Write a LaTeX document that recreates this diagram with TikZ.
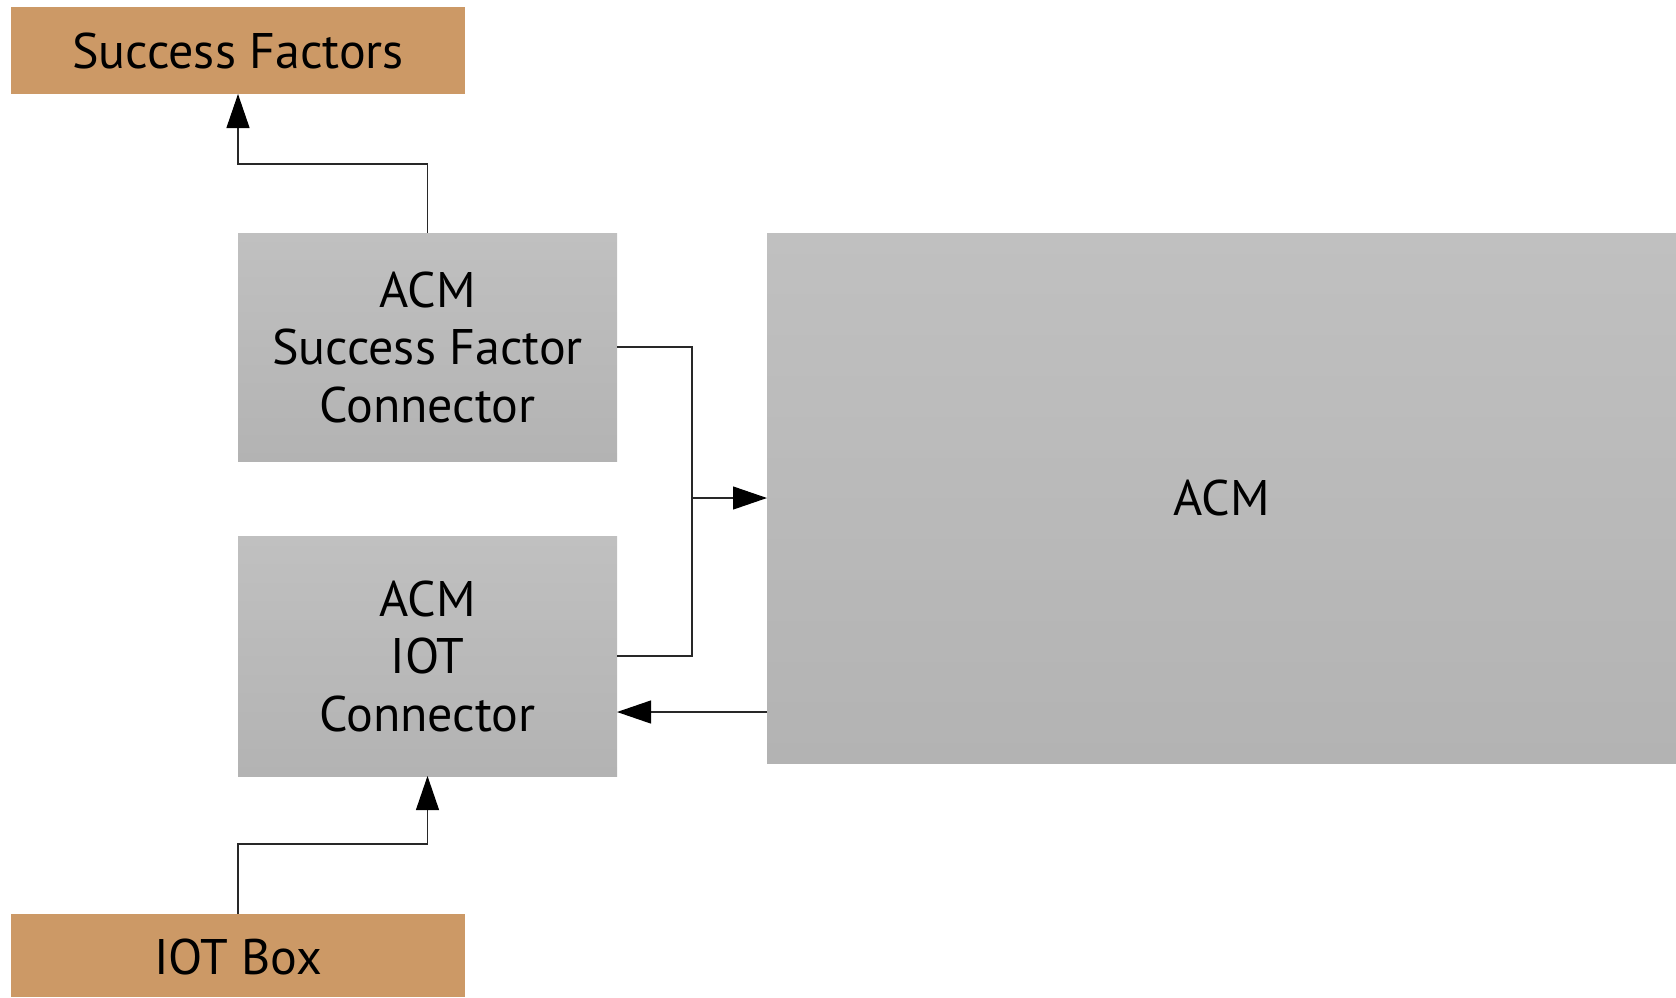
\documentclass[tikz,border=0pt]{standalone}
\usepackage{fontspec}
\setmainfont{PT Sans}
\usetikzlibrary{arrows.meta,calc}
\definecolor{tan}{RGB}{204,153,102}
\definecolor{gtop}{RGB}{192,192,192}
\definecolor{gbot}{RGB}{179,179,179}
\definecolor{wire}{RGB}{40,40,40}
\begin{document}
\begin{tikzpicture}[x=1pt,y=-1pt,
  lbl/.style={font=\fontsize{50}{57.5}\selectfont, align=center, text=black},
  tanbox/.style={lbl, fill=tan, draw=none, inner sep=0pt, outer sep=0pt},
  graybox/.style={lbl, top color=gtop, bottom color=gbot, draw=none, inner sep=0pt, outer sep=0pt},
  wireline/.style={draw=wire, line width=1.1pt},
  arr/.style={wireline, -{Triangle[length=34pt,width=23pt,color=black,fill=black]}}]
\useasboundingbox (0,0) rectangle (1676,997);
\node[tanbox, minimum width=454pt, minimum height=87pt] (sf) at (238,50.5) {Success Factors};
\node[graybox, minimum width=379pt, minimum height=228pt] (sfc) at (427.5,347) {ACM\\Success Factor\\Connector};
\node[graybox, minimum width=379pt, minimum height=240pt] (iotc) at (427.5,656) {ACM\\IOT\\Connector};
\node[graybox, minimum width=909pt, minimum height=530pt] (acm) at (1221.5,498) {ACM};
\node[tanbox, minimum width=454pt, minimum height=83pt, anchor=north] (iot) at (238,914) {};
\node[lbl] (iottxt) at (238,957) {IOT Box};
\coordinate (bus) at (692,498);
\coordinate (back) at (767,712);
\draw[arr] (sfc.north) -- ++(0,-69) -| (sf.south);
\draw[wireline] (sfc.east) -| (bus) |- (iotc.east);
\draw[arr] (bus) -- (acm.west);
\draw[arr] (back) -- (back -| iotc.east);
\draw[arr] (iot.north) -- ++(0,-70) -| (iotc.south);
\end{tikzpicture}
\end{document}
